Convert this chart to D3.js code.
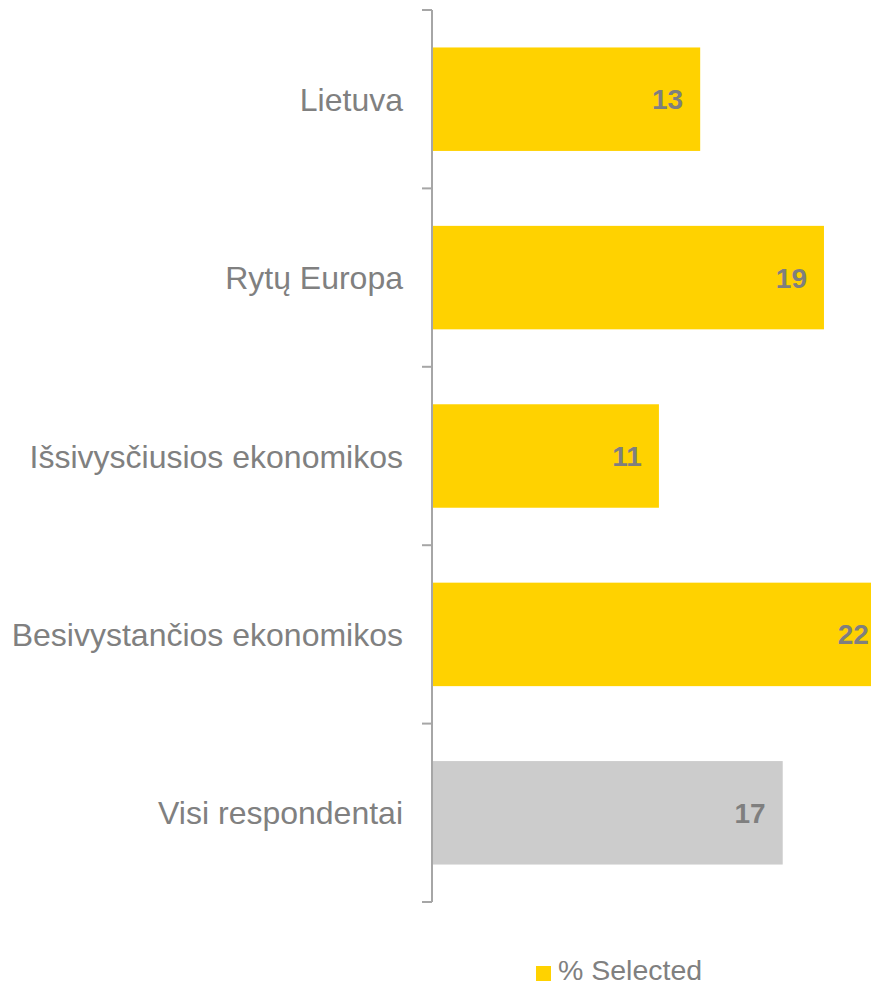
<!DOCTYPE html>
<html>
<head>
<meta charset="utf-8">
<script src="https://cdn.jsdelivr.net/npm/d3@7"></script>
<style>
    body { margin: 0; background: #fff; }
    svg { display: block; font-family: "Liberation Sans", Arial, sans-serif; }
</style>
</head>
<body>
<div id="chart"><svg width="871" height="987"></svg></div>
<script>
// chart data
var categories = ["Lietuva", "Rytų Europa", "Išsivysčiusios ekonomikos", "Besivystančios ekonomikos", "Visi respondentai"];
var values = [13, 19, 11, 22, 17];
var barColors = ["#FFD200", "#FFD200", "#FFD200", "#FFD200", "#CCCCCC"];
var legendLabel = "% Selected";

var svg = d3.select("#chart").select("svg");

var axisX = 432;

var y = d3.scaleBand()
    .domain(categories)
    .range([10, 902])
    .paddingInner(0.42)
    .paddingOuter(0.21);

var x = d3.scaleLinear()
    .domain([0, 20])
    .range([axisX, axisX + 412.6]);

var rows = categories.map(function (c, i) {
    return {cat: c, value: values[i], color: barColors[i]};
});

// bars
svg.selectAll(".bar")
    .data(rows)
    .enter().append("rect")
    .attr("class", "bar")
    .attr("x", x(0))
    .attr("y", function (d) { return y(d.cat); })
    .attr("width", function (d) { return x(d.value) - x(0); })
    .attr("height", y.bandwidth())
    .attr("fill", function (d) { return d.color; });

// value labels
svg.selectAll(".val")
    .data(rows)
    .enter().append("text")
    .attr("class", "val")
    .attr("x", function (d) { return x(d.value) - 17; })
    .attr("y", function (d) { return y(d.cat) + y.bandwidth() / 2; })
    .attr("dy", "0.36em")
    .attr("text-anchor", "end")
    .style("font-size", "28px")
    .style("font-weight", "bold")
    .style("fill", "#7F7F7F")
    .text(function (d) { return d.value; });

// category axis: line plus ticks at band boundaries
var step = y.step();
var bounds = categories.map(function (c) {
    return y(c) - y.paddingInner() * step / 2;
});
bounds.push(y.range()[1]);

svg.append("line")
    .attr("x1", axisX).attr("x2", axisX)
    .attr("y1", y.range()[0]).attr("y2", y.range()[1])
    .style("stroke", "#A6A6A6")
    .style("stroke-width", 2);

svg.selectAll(".tick")
    .data(bounds)
    .enter().append("line")
    .attr("class", "tick")
    .attr("x1", axisX - 10).attr("x2", axisX)
    .attr("y1", function (d) { return d; })
    .attr("y2", function (d) { return d; })
    .style("stroke", "#A6A6A6")
    .style("stroke-width", 2);

svg.selectAll(".cat")
    .data(categories)
    .enter().append("text")
    .attr("class", "cat")
    .attr("x", axisX - 29)
    .attr("y", function (d) { return y(d) + y.bandwidth() / 2; })
    .attr("dy", "0.36em")
    .attr("text-anchor", "end")
    .style("font-size", "32px")
    .style("fill", "#808080")
    .text(function (d) { return d; });

// legend
var legend = svg.append("g").attr("transform", "translate(536,966)");
legend.append("rect")
    .attr("width", 15).attr("height", 15)
    .attr("fill", barColors[0]);
legend.append("text")
    .attr("x", 22)
    .attr("y", 14)
    .style("font-size", "28.5px")
    .style("fill", "#808080")
    .text(legendLabel);
</script>
</body>
</html>
